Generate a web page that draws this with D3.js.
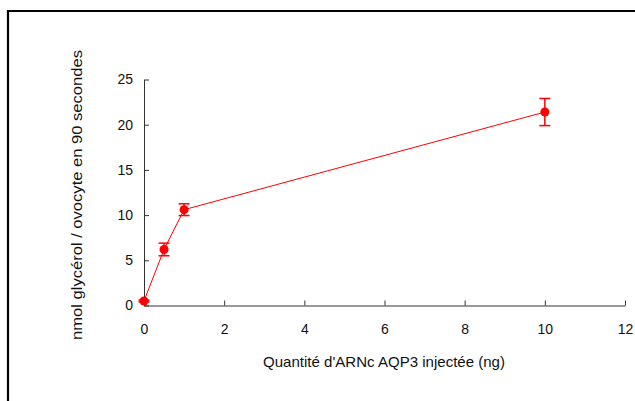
<!DOCTYPE html>
<html><head><meta charset="utf-8">
<script src="https://cdn.jsdelivr.net/npm/d3@7"></script>
<style>body{margin:0;background:#fff}svg{display:block}text{font-family:"Liberation Sans",Arial,sans-serif;fill:#111}</style>
</head><body><svg id="c" width="635" height="401"></svg>
<script>
const doses = [0, 0.5, 1, 10];
const glycerol = [0.5, 6.2, 10.6, 21.4];
const errors = [0.1, 0.7, 0.65, 1.5];
const xTicks = [0, 2, 4, 6, 8, 10, 12];
const yTicks = [0, 5, 10, 15, 20, 25];
const xLabel = "Quantité d'ARNc AQP3 injectée (ng)";
const yLabel = "nmol glycérol / ovocyte en 90 secondes";

const svg = d3.select("#c");
// frame
svg.append("path").attr("d","M8,402 L8,11 L636,11").attr("fill","none").attr("stroke","#000").attr("stroke-width",2.2);

const x = d3.scaleLinear().domain([0,12]).range([144,625]);
const y = d3.scaleLinear().domain([0,25]).range([305.5,79.5]);

const xa = svg.append("g").attr("transform","translate(0,305.5)")
  .call(d3.axisBottom(x).tickValues(xTicks).tickSizeInner(-5).tickSizeOuter(0).tickPadding(19));
const ya = svg.append("g").attr("transform","translate(144,0)")
  .call(d3.axisLeft(y).tickValues(yTicks).tickSizeInner(-5).tickSizeOuter(0).tickPadding(11));
[xa,ya].forEach(g=>{
  g.select(".domain").attr("stroke","#333");
  g.selectAll(".tick line").attr("stroke","#333");
  g.selectAll("text").attr("font-size",14).attr("fill","#111").attr("font-family","Liberation Sans, Arial, sans-serif");
});

svg.append("text").attr("x",384).attr("y",367).attr("text-anchor","middle").attr("font-size",14.5)
  .attr("textLength",242).attr("lengthAdjust","spacingAndGlyphs").text(xLabel);
svg.append("text").attr("transform","translate(82,195) rotate(-90)").attr("text-anchor","middle").attr("font-size",15)
  .attr("textLength",290).attr("lengthAdjust","spacingAndGlyphs").text(yLabel);

const pts = doses.map((d,i)=>({x:d,y:glycerol[i],e:errors[i]}));
svg.append("path").datum(pts).attr("fill","none").attr("stroke","#ff0000").attr("stroke-width",1)
  .attr("d", d3.line().x(d=>x(d.x)).y(d=>y(d.y)));
const eb = svg.append("g").attr("stroke","#ff0000").attr("stroke-width",1.5);
pts.forEach(p=>{
  eb.append("line").attr("x1",x(p.x)).attr("x2",x(p.x)).attr("y1",y(p.y+p.e)).attr("y2",y(p.y-p.e));
  [p.y+p.e,p.y-p.e].forEach(v=>eb.append("line").attr("x1",x(p.x)-5.5).attr("x2",x(p.x)+5.5).attr("y1",y(v)).attr("y2",y(v)));
});
svg.append("g").selectAll("circle").data(pts).join("circle")
  .attr("cx",d=>x(d.x)).attr("cy",d=>y(d.y)).attr("r",4.5).attr("fill","#ff0000");
</script></body></html>
